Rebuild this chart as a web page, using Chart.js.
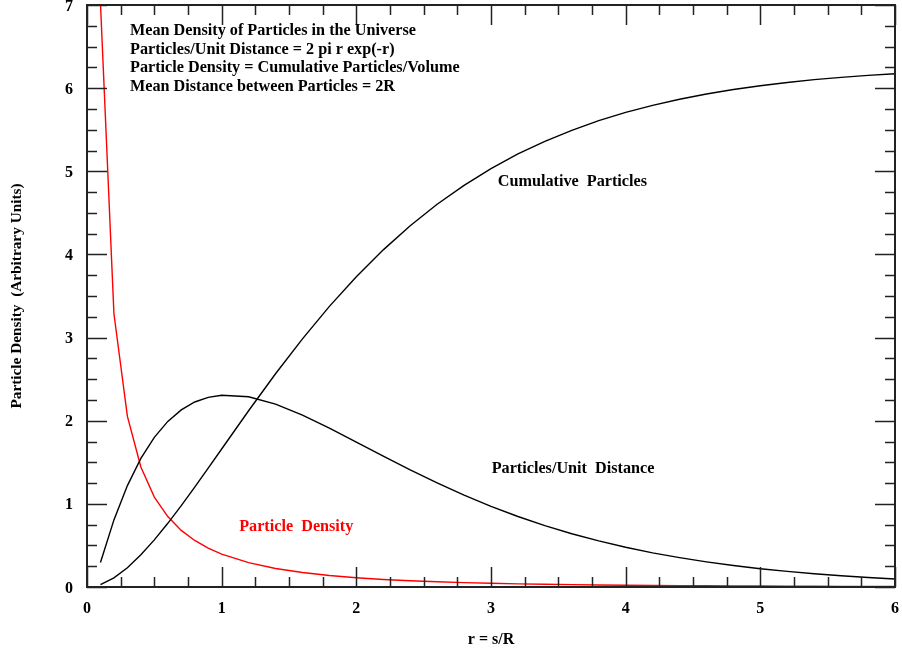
<!DOCTYPE html>
<html>
<head>
<meta charset="utf-8">
<script src="https://cdn.jsdelivr.net/npm/chart.js@4/dist/chart.umd.min.js"></script>
<style>
html,body{margin:0;padding:0;background:#fff;}
#wrap{width:902px;height:651px;}
</style>
</head>
<body>
<div id="wrap"><canvas id="c" width="902" height="651"></canvas></div>
<script>
// ---- data ----
const rValues = [0.1,0.2,0.3,0.4,0.5,0.6,0.7,0.8,0.9,1.0,
  1.2,1.4,1.6,1.8,2.0,2.2,2.4,2.6,2.8,3.0,3.2,3.4,3.6,3.8,4.0,
  4.2,4.4,4.6,4.8,5.0,5.2,5.4,5.6,5.8,6.0];
const cumulativeParticles = [0.029,0.110,0.232,0.387,0.567,0.766,0.979,1.201,1.430,1.660,
  2.120,2.565,2.985,3.375,3.732,4.055,4.345,4.603,4.831,5.032,5.208,5.361,5.493,5.609,5.708,
  5.793,5.867,5.930,5.983,6.029,6.068,6.102,6.130,6.154,6.174];
const particlesPerDistance = [0.294,0.807,1.220,1.547,1.800,1.992,2.130,2.225,2.281,2.307,
  2.288,2.199,2.067,1.911,1.743,1.574,1.408,1.251,1.105,0.970,0.848,0.739,0.641,0.554,0.478,
  0.411,0.353,0.302,0.258,0.220,0.188,0.160,0.136,0.115,0.097];
const particleDensity = [7.02,3.286,2.052,1.443,1.082,0.847,0.681,0.560,0.468,0.396,
  0.293,0.223,0.174,0.138,0.111,0.091,0.075,0.063,0.053,0.045,0.038,0.033,0.028,0.024,0.021,
  0.019,0.016,0.015,0.013,0.012,0.010,0.009,0.008,0.008,0.007];
const xTickValues = [0,1,2,3,4,5,6];
const yTickValues = [0,1,2,3,4,5,6,7];
const headerLines = [
  'Mean Density of Particles in the Universe',
  'Particles/Unit Distance = 2 pi r exp(-r)',
  'Particle Density = Cumulative Particles/Volume',
  'Mean Distance between Particles = 2R'
];
const curveLabels = [
  {text:'Cumulative  Particles', x:3.05, y:4.82, color:'#000000'},
  {text:'Particles/Unit  Distance', x:3.005, y:1.37, color:'#000000'},
  {text:'Particle  Density', x:1.13, y:0.675, color:'#ff0000'}
];

const serif = "'Liberation Serif','Times New Roman',serif";
const toPts = ys => rValues.map((r,i)=>({x:r, y:ys[i]}));

const framePlugin = {
  id:'frame',
  afterDraw(chart){
    const ctx = chart.ctx, a = chart.chartArea;
    const xs = chart.scales.x, ys = chart.scales.y;
    ctx.save();
    ctx.strokeStyle = '#222';
    ctx.lineWidth = 1.5;
    ctx.beginPath();
    for (let k=0;k<=24;k++){
      const v = k*0.25, px = Math.round(xs.getPixelForValue(v))+0.5;
      const len = (k%4===0)?20:10;
      ctx.moveTo(px,a.bottom); ctx.lineTo(px,a.bottom-len);
      ctx.moveTo(px,a.top); ctx.lineTo(px,a.top+len);
    }
    for (let k=0;k<=28;k++){
      const v = k*0.25, py = Math.round(ys.getPixelForValue(v))+0.5;
      const len = (k%4===0)?20:10;
      ctx.moveTo(a.left,py); ctx.lineTo(a.left+len,py);
      ctx.moveTo(a.right,py); ctx.lineTo(a.right-len,py);
    }
    ctx.stroke();
    ctx.lineWidth = 2;
    ctx.strokeRect(a.left, a.top, a.right-a.left, a.bottom-a.top);
    ctx.fillStyle = '#000';
    ctx.font = 'bold 16.2px ' + serif;
    ctx.textAlign = 'left';
    ctx.textBaseline = 'alphabetic';
    headerLines.forEach((t,i)=>{
      ctx.fillText(t, 130, 35 + i*18.6);
    });
    curveLabels.forEach(l=>{
      ctx.fillStyle = l.color;
      ctx.fillText(l.text, xs.getPixelForValue(l.x), ys.getPixelForValue(l.y));
    });
    ctx.restore();
  }
};

const tickFont = {family: serif, weight:'bold', size:16};
const zeroPad = s => { s.paddingTop = 0; s.paddingBottom = 0; s.paddingLeft = 0; s.paddingRight = 0; };

new Chart(document.getElementById('c'), {
  type:'line',
  data:{
    datasets:[
      {label:'Cumulative Particles', data:toPts(cumulativeParticles), borderColor:'#000', borderWidth:1.4, pointRadius:0, tension:0},
      {label:'Particles/Unit Distance', data:toPts(particlesPerDistance), borderColor:'#000', borderWidth:1.4, pointRadius:0, tension:0},
      {label:'Particle Density', data:toPts(particleDensity), borderColor:'#ff0000', borderWidth:1.4, pointRadius:0, tension:0}
    ]
  },
  options:{
    responsive:false,
    devicePixelRatio:1,
    animation:false,
    layout:{padding:{top:5,right:7,left:0,bottom:0}},
    plugins:{legend:{display:false}, tooltip:{enabled:false}},
    scales:{
      x:{
        type:'linear', min:0, max:6, position:'bottom',
        afterBuildTicks: s => { s.ticks = xTickValues.map(v=>({value:v})); },
        ticks:{font:tickFont, color:'#000', padding:12, maxRotation:0},
        grid:{display:false, drawTicks:false},
        border:{display:false},
        title:{display:true, text:'r = s/R', color:'#000', font:tickFont, padding:{top:0,bottom:2}},
        afterFit: s => { s.height = 64; zeroPad(s); }
      },
      y:{
        type:'linear', min:0, max:7, position:'left',
        afterBuildTicks: s => { s.ticks = yTickValues.map(v=>({value:v})); },
        ticks:{font:tickFont, color:'#000', padding:14, labelOffset:1.5},
        grid:{display:false, drawTicks:false},
        border:{display:false},
        title:{display:true, text:'Particle Density  (Arbitrary Units)', color:'#000', font:{family: serif, weight:'bold', size:15.3}, padding:{top:8,bottom:0}},
        afterFit: s => { s.width = 87; zeroPad(s); }
      }
    }
  },
  plugins:[framePlugin]
});
</script>
</body>
</html>
